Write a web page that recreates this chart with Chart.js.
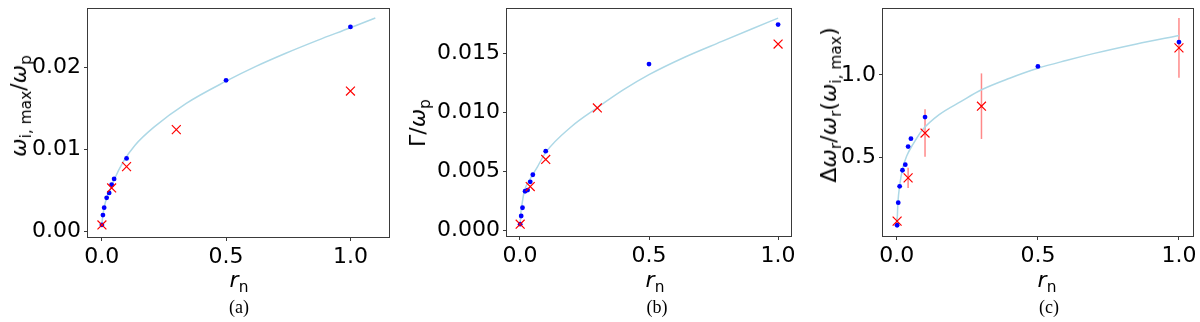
<!DOCTYPE html>
<html>
<head>
<meta charset="utf-8">
<script src="https://cdn.jsdelivr.net/npm/chart.js@4.4.1/dist/chart.umd.min.js"></script>
<style>
  body { margin: 0; background: #fff; width: 1200px; height: 322px; overflow: hidden; position: relative; }
  canvas { position: absolute; top: 0; }
  .lbl { position: absolute; font-family: 'DejaVu Sans'; font-size: 22px; line-height: 1; white-space: nowrap; color: #000; }
  .ylbl { transform: translate(-50%, -50%) rotate(-90deg); }
  .xlbl { transform: translate(-50%, -50%); }
  .cap { position: absolute; font-family: 'Liberation Serif'; font-size: 18px; line-height: 1; transform: translate(-50%, -50%); }
  sub { font-size: 0.7em; vertical-align: -0.3em; line-height: 0; font-style: normal; }
</style>
</head>
<body>
<canvas id="chartA" width="400" height="322" style="left:0px"></canvas>
<canvas id="chartB" width="400" height="322" style="left:400px"></canvas>
<canvas id="chartC" width="400" height="322" style="left:800px"></canvas>

<div class="lbl ylbl" style="left:19px; top:106px"><i>ω</i><sub>i, max</sub>/<i>ω</i><sub>p</sub></div>
<div class="lbl ylbl" style="left:418px; top:123px">Γ/<i>ω</i><sub>p</sub></div>
<div class="lbl ylbl" style="left:829px; top:105px">Δ<i>ω</i><sub>r</sub>/<i>ω</i><sub>r</sub>(<i>ω</i><sub>i, max</sub>)</div>

<div class="lbl xlbl" style="left:239px; top:280px"><i>r</i><sub>n</sub></div>
<div class="lbl xlbl" style="left:655px; top:280px"><i>r</i><sub>n</sub></div>
<div class="lbl xlbl" style="left:1047px; top:280px"><i>r</i><sub>n</sub></div>

<div class="cap" style="left:239px; top:307px">(a)</div>
<div class="cap" style="left:657px; top:307px">(b)</div>
<div class="cap" style="left:1049px; top:307px">(c)</div>

<script>
// shared x ticks
const xTicks = [0, 0.5, 1.0];

// (a) omega_i,max / omega_p
const rBlueA = [0.001, 0.005, 0.01, 0.02, 0.03, 0.04, 0.05, 0.1, 0.5, 1.0];
const yBlueA = [0.0008, 0.002, 0.0029, 0.0041, 0.0047, 0.0057, 0.0064, 0.0089, 0.0184, 0.0249];
const rRedA = [0.001, 0.04, 0.1, 0.3, 1.0];
const yRedA = [0.0008, 0.0053, 0.0079, 0.0124, 0.0171];
const rFitA = [0.001, 0.003, 0.006, 0.01, 0.02, 0.03, 0.05, 0.087, 0.134, 0.21, 0.34, 0.5, 0.62, 0.74, 0.87, 1.0, 1.1];
const yFitA = [0.0008, 0.0016, 0.0022, 0.0029, 0.0041, 0.0048, 0.0063, 0.0085, 0.0105, 0.0127, 0.0156, 0.0183, 0.0201, 0.0217, 0.0233, 0.0248, 0.026];
const yTicksA = [0, 0.01, 0.02];

// (b) Gamma / omega_p
const rBlueB = [0.001, 0.005, 0.01, 0.02, 0.03, 0.04, 0.05, 0.1, 0.5, 1.0];
const yBlueB = [0.0005, 0.0012, 0.0019, 0.0033, 0.0034, 0.0041, 0.0047, 0.0067, 0.0141, 0.01745];
const rRedB = [0.001, 0.04, 0.1, 0.3, 1.0];
const yRedB = [0.0005, 0.0037, 0.006, 0.01037, 0.0158];
const rFitB = [0.001, 0.003, 0.0066, 0.017, 0.036, 0.0685, 0.1, 0.2, 0.3, 0.4, 0.5, 0.64, 0.78, 0.9, 1.0];
const yFitB = [0.0005, 0.0013, 0.00195, 0.0033, 0.0042, 0.0054, 0.0066, 0.0088, 0.0104, 0.0119, 0.0132, 0.0147, 0.016, 0.0171, 0.018];
const yTicksB = [0, 0.005, 0.01, 0.015];

// (c) delta omega_r / omega_r(omega_i,max)
const rBlueC = [0.001, 0.005, 0.01, 0.02, 0.03, 0.04, 0.05, 0.1, 0.5, 1.0];
const yBlueC = [0.092, 0.228, 0.327, 0.424, 0.458, 0.567, 0.615, 0.745, 1.051, 1.198];
const rRedC = [0.001, 0.04, 0.1, 0.3, 1.0];
const yRedC = [0.117, 0.378, 0.649, 0.811, 1.163];
const errRedC = [0.02, 0.061, 0.144, 0.198, 0.18];
const rFitC = [0.001, 0.004, 0.01, 0.02, 0.035, 0.057, 0.092, 0.15, 0.228, 0.3, 0.4, 0.5, 0.6, 0.7, 0.85, 1.0];
const yFitC = [0.11, 0.23, 0.33, 0.43, 0.51, 0.58, 0.67, 0.76, 0.84, 0.91, 0.98, 1.04, 1.087, 1.13, 1.187, 1.238];
const yTicksC = [0.5, 1.0];

Chart.defaults.font.family = "'DejaVu Sans'";
Chart.defaults.font.size = 22;
Chart.defaults.color = '#000';

function toPoints(xs, ys) {
    return xs.map((x, i) => ({ x: x, y: ys[i] }));
}

// frame around the plot area (all four spines)
const boxPlugin = {
    id: 'box',
    afterDraw(chart) {
        const a = chart.chartArea;
        const ctx = chart.ctx;
        ctx.save();
        ctx.strokeStyle = '#3a3a3a';
        ctx.lineWidth = 1;
        ctx.strokeRect(Math.round(a.left) - 0.5, Math.round(a.top) + 0.5,
            Math.round(a.right - a.left) + 1, Math.round(a.bottom - a.top) - 1);
        ctx.restore();
    }
};

// vertical error bars for the red series, placed through the chart scales
function errorBarPlugin(xs, ys, errs) {
    return {
        id: 'errbars',
        beforeDatasetsDraw(chart) {
            const sx = chart.scales.x;
            const sy = chart.scales.y;
            const ctx = chart.ctx;
            ctx.save();
            ctx.strokeStyle = 'rgba(255, 40, 40, 0.55)';
            ctx.lineWidth = 1.5;
            for (let i = 0; i < xs.length; i++) {
                const px = sx.getPixelForValue(xs[i]);
                ctx.beginPath();
                ctx.moveTo(px, sy.getPixelForValue(ys[i] - errs[i]));
                ctx.lineTo(px, sy.getPixelForValue(ys[i] + errs[i]));
                ctx.stroke();
            }
            ctx.restore();
        }
    };
}

function makePanel(id, p) {
    const plugins = [boxPlugin];
    if (p.err) plugins.push(errorBarPlugin(p.rRed, p.yRed, p.err));

    return new Chart(id, {
        type: 'scatter',
        data: {
            datasets: [
                {
                    data: toPoints(p.rRed, p.yRed),
                    pointStyle: 'crossRot',
                    pointRadius: 6.3,
                    borderColor: '#ff0000',
                    borderWidth: 1.2,
                    order: 0
                },
                {
                    data: toPoints(p.rBlue, p.yBlue),
                    pointStyle: 'circle',
                    pointRadius: 2.4,
                    backgroundColor: '#0000ff',
                    borderWidth: 0,
                    order: 1
                },
                {
                    type: 'line',
                    data: toPoints(p.rFit, p.yFit),
                    showLine: true,
                    pointRadius: 0,
                    borderColor: '#add8e6',
                    borderWidth: 1.5,
                    fill: false,
                    cubicInterpolationMode: 'monotone',
                    order: 2
                }
            ]
        },
        options: {
            responsive: false,
            animation: false,
            devicePixelRatio: 1,
            layout: { padding: { top: 4, right: p.padRight, left: 0, bottom: 0 } },
            plugins: { legend: { display: false }, tooltip: { enabled: false } },
            scales: {
                x: {
                    type: 'linear',
                    min: p.xMin,
                    max: p.xMax,
                    afterBuildTicks: axis => { axis.ticks = xTicks.map(v => ({ value: v })); },
                    afterFit: axis => {
                        axis.height = p.xHeight;
                        axis.paddingLeft = 0;
                        axis.paddingRight = 0;
                    },
                    ticks: { padding: 3, maxRotation: 0, callback: v => v.toFixed(1) },
                    grid: { drawOnChartArea: false, drawTicks: true, tickLength: 4, color: '#3a3a3a' },
                    border: { display: false }
                },
                y: {
                    type: 'linear',
                    min: p.yMin,
                    max: p.yMax,
                    afterBuildTicks: axis => { axis.ticks = p.yTicks.map(v => ({ value: v })); },
                    afterFit: axis => {
                        axis.width = p.yWidth;
                        axis.paddingTop = 0;
                        axis.paddingBottom = 0;
                    },
                    ticks: { padding: 3, callback: v => v.toFixed(p.yDigits) },
                    grid: { drawOnChartArea: false, drawTicks: true, tickLength: 4, color: '#3a3a3a' },
                    border: { display: false }
                }
            }
        },
        plugins: plugins
    });
}

makePanel('chartA', {
    rBlue: rBlueA, yBlue: yBlueA, rRed: rRedA, yRed: yRedA, rFit: rFitA, yFit: yFitA,
    xMin: -0.055, xMax: 1.155, yMin: -0.00067, yMax: 0.02727,
    yTicks: yTicksA, yDigits: 2, yWidth: 88, padRight: 11, xHeight: 85
});

makePanel('chartB', {
    rBlue: rBlueB, yBlue: yBlueB, rRed: rRedB, yRed: yRedB, rFit: rFitB, yFit: yFitB,
    xMin: -0.05, xMax: 1.05, yMin: -0.0005, yMax: 0.0189,
    yTicks: yTicksB, yDigits: 3, yWidth: 107, padRight: 9, xHeight: 86
});

makePanel('chartC', {
    rBlue: rBlueC, yBlue: yBlueC, rRed: rRedC, yRed: yRedC, rFit: rFitC, yFit: yFitC, err: errRedC,
    xMin: -0.049, xMax: 1.048, yMin: 0.027, yMax: 1.407,
    yTicks: yTicksC, yDigits: 1, yWidth: 83, padRight: 5, xHeight: 86
});
</script>
</body>
</html>
